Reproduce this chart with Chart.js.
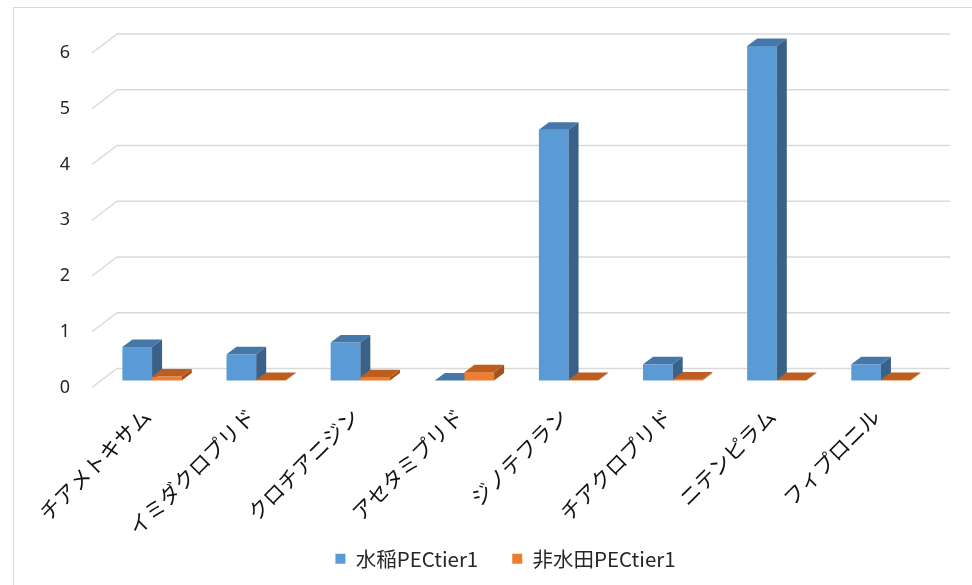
<!DOCTYPE html>
<html>
<head>
<meta charset="utf-8">
<script src="https://cdn.jsdelivr.net/npm/chart.js@4/dist/chart.umd.min.js"></script>
<style>
  html, body { margin: 0; padding: 0; background: #fff; }
  #wrap { position: relative; width: 972px; height: 585px; }
</style>
</head>
<body>
<div id="wrap"><canvas id="chart"></canvas></div>
<script>
var categories = ["チアメトキサム", "イミダクロプリド", "クロチアニジン", "アセタミプリド",
                  "ジノテフラン", "チアクロプリド", "ニテンピラム", "フィプロニル"];
var seriesNames = ["水稲PECtier1", "非水田PECtier1"];
var riceValues = [0.6, 0.47, 0.68, 0, 4.5, 0.29, 6.0, 0.29];
var uplandValues = [0.07, 0.01, 0.06, 0.15, 0.01, 0.02, 0.01, 0.01];
var yTicks = [0, 1, 2, 3, 4, 5, 6];

// face colours: front, top, side
var faces = [
    { front: "#5b9bd5", top: "#4677a9", side: "#3a6289" },
    { front: "#ed7d31", top: "#bc5e20", side: "#a3511a" }
];

// oblique offsets: back wall / front edge relative to the bar plane, and bar depth
var wall = { bx: 17, by: 12, fx: -8, fy: 7 };
var bar = { dx: 10, dy: 7.5 };

function poly(ctx, pts, color) {
    ctx.beginPath();
    ctx.moveTo(pts[0][0], pts[0][1]);
    for (var i = 1; i < pts.length; i++) ctx.lineTo(pts[i][0], pts[i][1]);
    ctx.closePath();
    ctx.fillStyle = color;
    ctx.fill();
}

var depthPlugin = {
    id: "depth",
    afterLayout: (chart) => {
        // rotated category names run past the axis box, so don't clip them there
        chart.scales.x.bottom = chart.height;
        // legend sits a little right of the canvas centre
        chart.legend.left = 78;
    },
    beforeDraw: (chart) => {
        var ctx = chart.ctx;
        ctx.save();
        ctx.strokeStyle = "#d9d9d9";
        ctx.lineWidth = 1;
        ctx.strokeRect(13.5, 7.5, 1000, 700);
        ctx.restore();
    },
    beforeDatasetsDraw: (chart) => {
        var ctx = chart.ctx, area = chart.chartArea, y = chart.scales.y;
        ctx.save();
        ctx.strokeStyle = "#d9d9d9";
        ctx.lineWidth = 1.4;
        yTicks.forEach((v) => {
            var py = y.getPixelForValue(v);
            ctx.beginPath();
            ctx.moveTo(area.left + wall.fx, py + wall.fy);
            ctx.lineTo(area.left + wall.bx, py - wall.by);
            ctx.lineTo(area.right + wall.bx, py - wall.by);
            ctx.stroke();
        });
        ctx.restore();
    },
    beforeDatasetDraw: () => false,
    afterDatasetsDraw: (chart) => {
        var ctx = chart.ctx;
        var metas = chart.data.datasets.map((_, i) => chart.getDatasetMeta(i));
        ctx.save();
        for (var c = 0; c < categories.length; c++) {
            metas.forEach((meta, d) => {
                var p = meta.data[c].getProps(["x", "y", "base", "width"], true);
                var l = p.x - p.width / 2, r = p.x + p.width / 2;
                var f = faces[d];
                if (p.base - p.y > 0) {
                    ctx.fillStyle = f.front;
                    ctx.fillRect(l, p.y, r - l, p.base - p.y);
                }
                poly(ctx, [[r, p.y], [r + bar.dx, p.y - bar.dy], [r + bar.dx, p.base - bar.dy], [r, p.base]], f.side);
                poly(ctx, [[l, p.y], [l + bar.dx, p.y - bar.dy], [r + bar.dx, p.y - bar.dy], [r, p.y]], f.top);
            });
        }
        ctx.restore();
    }
};

var config = {
    type: "bar",
    data: {
        labels: categories,
        datasets: [
            { label: seriesNames[0], data: riceValues, backgroundColor: faces[0].front },
            { label: seriesNames[1], data: uplandValues, backgroundColor: faces[1].front }
        ]
    },
    options: {
        animation: false,
        responsive: true,
        maintainAspectRatio: false,
        datasets: {
            bar: { categoryPercentage: 0.57, barPercentage: 1.0 }
        },
        layout: {
            padding: { top: 46, right: 39, bottom: 6, left: 0 }
        },
        plugins: {
            legend: {
                display: true,
                position: "bottom",
                labels: {
                    boxWidth: 10,
                    boxHeight: 10,
                    padding: 34,
                    color: "#262626",
                    font: { family: "'Noto Sans CJK JP', 'Noto Sans'", size: 20.5 }
                }
            },
            tooltip: { enabled: false },
            title: { display: false }
        },
        scales: {
            x: {
                grid: { display: false, drawTicks: false },
                border: { display: false },
                ticks: {
                    minRotation: 45,
                    maxRotation: 45,
                    padding: 23,
                    labelOffset: -5,
                    color: "#111",
                    font: { family: "'Noto Sans CJK JP'", size: 21 }
                },
                afterFit: (scale) => { scale.height = 134; }
            },
            y: {
                min: 0,
                max: 6,
                grid: { display: false, drawTicks: false },
                border: { display: false },
                afterBuildTicks: (scale) => { scale.ticks = yTicks.map((v) => ({ value: v })); },
                ticks: {
                    padding: 30,
                    labelOffset: 7,
                    color: "#262626",
                    font: { family: "'Noto Sans'", size: 18 }
                },
                afterFit: (scale) => { scale.width = 100; }
            }
        }
    },
    plugins: [depthPlugin]
};

new Chart(document.getElementById("chart"), config);
</script>
</body>
</html>
